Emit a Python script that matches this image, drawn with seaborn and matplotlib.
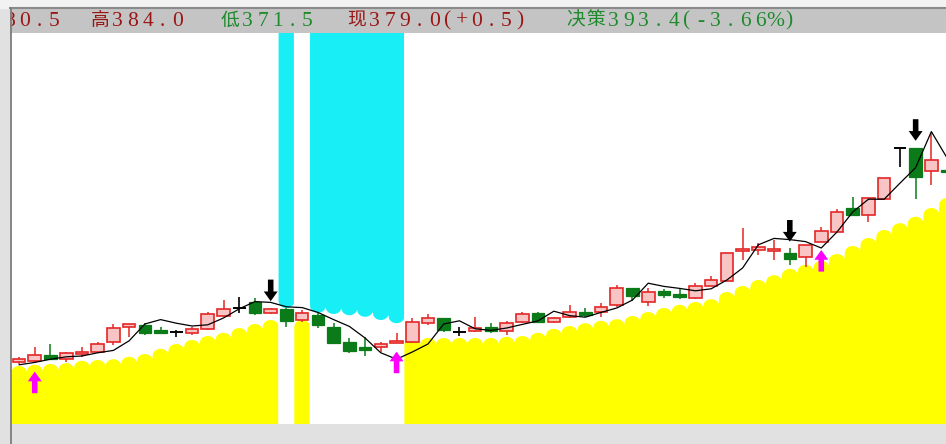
import numpy as np
import matplotlib
matplotlib.use("Agg")
import matplotlib.pyplot as plt
import seaborn as sns
from matplotlib.lines import Line2D
from matplotlib.patches import Rectangle

# ---- data (price units) ----
open_ = [331.5, 331.8, 333.2, 332.2, 333.5, 333.9, 336.6, 340.2, 340.8, 339.5,
         339.1, 338.8, 339.7, 343.0, 344.9, 346.6, 343.7, 344.7, 342.0, 343.2,
         340.3, 336.6, 335.3, 335.2, 336.2, 336.6, 341.3, 342.6, 339.1, 339.2,
         340.3, 339.2, 341.6, 343.7, 341.6, 342.7, 344.1, 344.1, 345.8, 349.9,
         346.6, 349.3, 348.5, 347.6, 350.5, 351.8, 359.2, 359.5, 359.2, 358.7,
         357.8, 361.6, 364.1, 369.9, 368.2, 372.2, 384.9, 385.1, 379.3, 379.5]
high = [332.8, 335.3, 336.0, 334.1, 335.3, 336.6, 341.0, 340.9, 341.2, 340.3,
        339.5, 340.3, 343.9, 347.0, 347.8, 347.4, 345.0, 344.9, 344.5, 343.7,
        341.2, 337.6, 337.7, 336.6, 338.7, 342.6, 343.5, 342.6, 340.2, 342.7,
        341.2, 341.8, 344.1, 344.1, 342.8, 345.8, 344.9, 346.2, 350.8, 350.0,
        349.9, 349.7, 349.9, 351.3, 353.1, 358.7, 364.9, 361.2, 362.0, 359.9,
        360.8, 365.3, 369.7, 372.7, 372.4, 377.6, 384.9, 385.1, 388.7, 384.0]
low = [331.1, 331.2, 332.0, 331.6, 332.7, 333.7, 335.7, 337.8, 338.2, 338.5,
       337.7, 338.2, 339.5, 342.8, 343.7, 343.2, 343.5, 340.3, 341.6, 339.9,
       335.9, 333.8, 333.0, 334.1, 336.2, 336.2, 340.8, 339.1, 338.0, 339.1,
       338.8, 338.2, 341.2, 341.2, 341.2, 342.4, 342.7, 342.8, 345.3, 346.8,
       345.5, 347.4, 347.2, 347.2, 350.5, 351.8, 357.0, 358.2, 357.0, 355.8,
       355.3, 361.6, 364.1, 368.2, 366.6, 372.2, 380.3, 372.2, 375.8, 371.5]
close = [332.3, 333.2, 332.2, 333.8, 334.1, 335.9, 339.9, 340.9, 338.8, 338.8,
         339.1, 339.7, 343.4, 344.7, 344.9, 343.7, 344.7, 341.8, 343.7, 340.8,
         336.2, 334.2, 334.5, 336.0, 336.6, 341.6, 342.6, 339.5, 339.1, 340.1,
         339.2, 341.2, 343.4, 341.6, 342.4, 344.1, 343.2, 345.3, 349.9, 347.9,
         349.0, 348.2, 347.8, 350.5, 351.9, 358.7, 359.8, 360.3, 359.8, 357.2,
         360.8, 364.3, 369.1, 368.2, 372.4, 377.6, 384.9, 377.8, 382.0, 379.0]
ma_line = [330.8, 331.4, 332.2, 332.8, 333.0, 333.8, 334.4, 336.8, 341.0, 342.1,
           341.2, 340.5, 340.8, 342.5, 344.8, 346.6, 346.4, 345.3, 345.1, 343.9,
           342.1, 340.4, 337.5, 333.8, 332.2, 334.0, 336.0, 341.0, 341.8, 339.8,
           339.4, 340.0, 340.9, 341.8, 344.2, 343.1, 342.7, 343.9, 345.0, 347.0,
           351.2, 350.4, 349.9, 349.3, 349.8, 352.0, 355.0, 360.8, 362.4, 362.1,
           361.6, 360.0, 364.0, 369.0, 372.2, 372.2, 376.2, 380.1, 389.1, 382.5]
# yellow support band (top of each bump); None where the cyan band is shown
support = [330.5, 330.8, 331.0, 331.2, 331.8, 332.0, 332.2, 332.8, 333.5, 334.8,
           336.0, 337.0, 338.0, 338.8, 340.0, 341.0, 342.0, None, 342.0, None,
           None, None, None, None, None, 337.5, 337.5, 337.5, 337.5, 337.5,
           337.5, 337.8, 338.0, 338.8, 339.8, 340.5, 341.2, 341.8, 342.2, 343.0,
           344.0, 345.0, 345.8, 346.5, 347.2, 349.0, 350.5, 352.0, 353.2, 354.8,
           355.8, 356.8, 358.5, 360.5, 362.5, 364.5, 366.2, 367.8, 370.0, 372.5]
# cyan resistance band (lowest point of each hanging bump)
resistance = [None] * 17 + [345.0, None, 343.8, 343.5, 343.2, 342.8, 342.0, 341.2] + [None] * 35
buy_idx = [1, 24, 51]
sell_idx = [16, 49, 57]

header_items = [
    ("380.5", -13, "#9a1616"),
    ("高384.0", 90, "#9a1616"),
    ("低371.5", 220, "#1d8a2c"),
    ("现379.0(+0.5)", 347, "#9a1616"),
    ("决策393.4(-3.66%)", 566, "#1d8a2c"),
]

W, H = 946, 444
YMIN, YMAX = 316.0, 413.75

sns.set_style("white")
plt.rcParams['font.family'] = ['Liberation Serif', 'Noto Sans CJK SC', 'DejaVu Sans']

fig = plt.figure(figsize=(W / 100, H / 100), dpi=100)
fig.patch.set_facecolor('#e1e1e1')
fig.add_artist(Rectangle((0, (H - 8) / H), 1, 8 / H, transform=fig.transFigure,
                         color='#f2f2f2', zorder=0))

ax = fig.add_axes([11 / W, 20 / H, 935 / W, 391 / H])
ax.set_facecolor('white')

n = len(close)
idx_all = np.arange(n)

# scalloped bands
xs = np.linspace(-0.5, n - 0.5, n * 40 + 1)
k = np.clip(np.floor(xs + 0.5).astype(int), 0, n - 1)
u = (xs - k) / 0.5
bump = 1 - np.sqrt(np.clip(1 - u ** 2, 0, 1))
depth = 1.7

sup = np.array([np.nan if v is None else v for v in support])
top = sup[k] - depth * bump
m = ~np.isnan(top)
ax.fill_between(xs, YMIN, np.where(m, top, YMIN), where=m, color='#ffff00', lw=0, zorder=1)

res = np.array([np.nan if v is None else v for v in resistance])
bot = res[k] + depth * bump
m2 = ~np.isnan(bot)
ax.fill_between(xs, np.where(m2, bot, YMAX), YMAX, where=m2, color='#18eef6', lw=0, zorder=1)

# candles
o = np.array(open_); c = np.array(close); hi = np.array(high); lo = np.array(low)
up = c > o
dn = c < o
fl = c == o
pink, red, green = '#f8c4c4', '#e42626', '#0b7b1a'
w = 0.8

ax.vlines(idx_all[up], lo[up], hi[up], color=red, lw=1.1, zorder=2)
ax.vlines(idx_all[dn], lo[dn], hi[dn], color=green, lw=1.1, zorder=2)
ax.vlines(idx_all[fl], lo[fl], hi[fl], color='black', lw=1.2, zorder=2)

ax.bar(idx_all[up], np.maximum(c[up] - o[up], 0.45), bottom=o[up], width=w,
       color=pink, edgecolor=red, linewidth=1.2, zorder=3)
ax.bar(idx_all[dn], np.maximum(o[dn] - c[dn], 0.45), bottom=c[dn], width=w,
       color=green, edgecolor=green, linewidth=0.9, zorder=3)
ax.hlines(o[fl], idx_all[fl] - w / 2, idx_all[fl] + w / 2, color='black', lw=1.4, zorder=3)

# decision line
sns.lineplot(x=idx_all, y=ma_line, ax=ax, color='black', linewidth=0.9, zorder=4)

# signal arrows
astyle = 'simple,head_length=0.7,head_width=1.0,tail_width=0.4'
for i in buy_idx:
    tip = low[i] - 2.1
    ax.annotate('', xy=(i, tip), xytext=(i, tip - 5.4),
                arrowprops=dict(arrowstyle=astyle, color='#ff00ff', mutation_scale=10,
                                shrinkA=0, shrinkB=0, lw=0), zorder=5)
for i in sell_idx:
    tip = high[i] + 1.7
    ax.annotate('', xy=(i, tip), xytext=(i, tip + 5.4),
                arrowprops=dict(arrowstyle=astyle, color='black', mutation_scale=10,
                                shrinkA=0, shrinkB=0, lw=0), zorder=5)

ax.set_xlim(-0.51, 58.93)
ax.set_ylim(YMIN, YMAX)
ax.set_xticks([]); ax.set_yticks([])
ax.set_xlabel(''); ax.set_ylabel('')
for s in ax.spines.values():
    s.set_visible(False)

# header strip
hx = fig.add_axes([10 / W, (H - 33) / H, 936 / W, 25 / H])
hx.set_facecolor('#c4c4c4')
hx.set_xlim(10, W); hx.set_ylim(33, 8)
hx.set_xticks([]); hx.set_yticks([])
for name, s in hx.spines.items():
    s.set_visible(name == 'top')
hx.spines['top'].set_color('#8a8a8a')
hx.spines['top'].set_linewidth(1.5)

for text, x0, col in header_items:
    x = x0
    for ch in text:
        if ord(ch) > 255:
            adv, fs = 20, 13.5
        elif ch in '()':
            adv, fs = 12, 15.5
        else:
            adv, fs = 15, 15.5
        hx.text(x + adv / 2, 21, ch, color=col, fontsize=fs, ha='center', va='center',
                clip_on=True)
        x += adv

fig.add_artist(Line2D([10.5 / W, 10.5 / W], [0, (H - 8) / H], transform=fig.transFigure,
                      color='#7d7d7d', lw=1.3))

fig.savefig('out.png', dpi=100, facecolor=fig.get_facecolor())
